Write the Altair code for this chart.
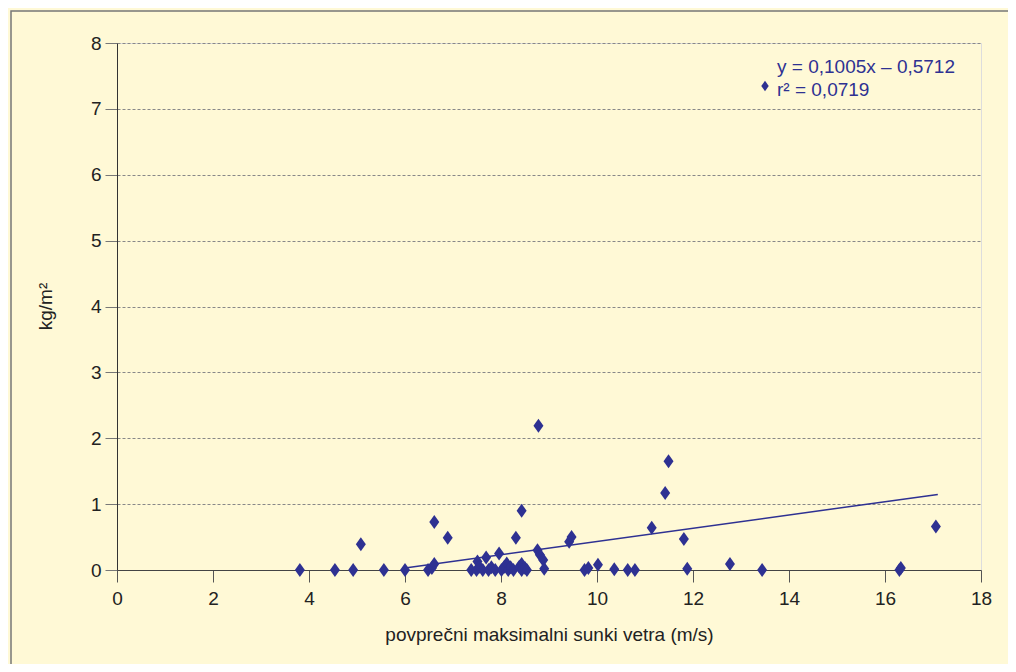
import altair as alt
import pandas as pd

# ---- data ----
wind = [3.81, 4.54, 4.92, 5.08, 5.56, 6.00, 6.48, 6.56, 6.61, 6.61, 6.89,
        7.38, 7.49, 7.51, 7.55, 7.62, 7.69, 7.74, 7.80, 7.88, 7.96, 8.01, 8.07,
        8.12, 8.15, 8.20, 8.26, 8.31, 8.38, 8.43, 8.43, 8.43, 8.50, 8.54,
        8.78, 8.76, 8.81, 8.88, 8.90, 9.42, 9.47, 9.74, 9.82, 10.02, 10.36,
        10.64, 10.79, 11.14, 11.42, 11.49, 11.81, 11.88, 12.77, 13.44,
        16.30, 16.33, 17.06]
mass = [0.00, 0.00, 0.00, 0.39, 0.00, 0.00, 0.00, 0.03, 0.09, 0.73, 0.49,
        0.00, 0.00, 0.13, 0.05, 0.00, 0.19, 0.00, 0.04, 0.00, 0.25, 0.00, 0.05,
        0.10, 0.00, 0.04, 0.00, 0.49, 0.05, 0.90, 0.09, 0.00, 0.03, 0.00,
        2.19, 0.30, 0.23, 0.15, 0.02, 0.43, 0.50, 0.00, 0.03, 0.08, 0.01,
        0.00, 0.00, 0.64, 1.17, 1.65, 0.47, 0.02, 0.09, 0.00,
        0.00, 0.03, 0.66]

slope = 0.1005
intercept = -0.5712
r2 = 0.0719
trend_x = [6.0, 17.1]

x_ticks = [0, 2, 4, 6, 8, 10, 12, 14, 16, 18]
y_ticks = [0, 1, 2, 3, 4, 5, 6, 7, 8]

x_title = "povprečni maksimalni sunki vetra (m/s)"
y_title = "kg/m²"

def fmt(v, d):
    return f"{v:.{d}f}".replace(".", ",")

eq_lines = [f"y = {fmt(slope, 4)}x – {fmt(abs(intercept), 4)}", f"r² = {fmt(r2, 4)}"]

NAVY = "#2E3192"
FONT = "Liberation Sans"
FS = 19
DIAMOND = "M0,-1.4L1,0L0,1.4L-1,0Z"

pts = pd.DataFrame({"x": wind, "y": mass})
trend = pd.DataFrame({"x": trend_x, "y": [slope * v + intercept for v in trend_x]})

W, H = 864, 527

x_scale = alt.Scale(domain=[0, 18], nice=False)
y_scale = alt.Scale(domain=[0, 8], nice=False)

x_axis = alt.Axis(values=x_ticks, format="d", title=x_title, grid=False, tickSize=12,
                  tickColor="#555", domainColor="#444", labelFontSize=FS,
                  labelPadding=7, labelColor="#222", labelFlush=False,
                  titleFontSize=FS, titleFontWeight="normal", titleColor="#222",
                  titleY=64, titleBaseline="middle", labelFont=FONT, titleFont=FONT)
y_axis = alt.Axis(values=y_ticks, format="d", title=y_title, grid=True, gridDash=[3, 2],
                  gridColor="#888", tickSize=12, tickColor="#777",
                  domainColor="#333", labelFontSize=FS, labelPadding=4,
                  labelColor="#222", labelFlush=False, titleFontSize=FS,
                  titleFontWeight="normal", titleColor="#222", titleAngle=270,
                  titleX=-72, titleY=263, titleBaseline="middle", titleAlign="center",
                  labelFont=FONT, titleFont=FONT)

border = alt.Chart(pd.DataFrame({"a": [0]})).mark_rect(
    fillOpacity=0, stroke="#777", strokeWidth=1.5
).encode(x=alt.value(-106), x2=alt.value(W + 60), y=alt.value(-32), y2=alt.value(H + 130))

points = alt.Chart(pts).mark_point(
    shape=DIAMOND, filled=True, size=100, color=NAVY, opacity=1
).encode(x=alt.X("x:Q", scale=x_scale, axis=x_axis),
         y=alt.Y("y:Q", scale=y_scale, axis=y_axis))

line = alt.Chart(trend).mark_line(color=NAVY, strokeWidth=1.5).encode(
    x=alt.X("x:Q", scale=x_scale), y=alt.Y("y:Q", scale=y_scale))

eq1 = alt.Chart(pd.DataFrame({"t": [eq_lines[0]]})).mark_text(
    align="left", baseline="middle", fontSize=FS, color=NAVY, font=FONT
).encode(x=alt.value(660), y=alt.value(24), text="t:N")
eq2 = alt.Chart(pd.DataFrame({"t": [eq_lines[1]]})).mark_text(
    align="left", baseline="middle", fontSize=FS, color=NAVY, font=FONT
).encode(x=alt.value(660), y=alt.value(47), text="t:N")
marker = alt.Chart(pd.DataFrame({"a": [0]})).mark_point(
    shape=DIAMOND, filled=True, size=56, color=NAVY, opacity=1
).encode(x=alt.value(648), y=alt.value(43))

chart = alt.layer(border, line, points, eq1, eq2, marker).properties(
    width=W, height=H,
    padding={"left": 109, "top": 35, "right": 27, "bottom": 94},
    autosize=alt.AutoSizeParams(type="none"),
    background="#FFF9D6",
).configure_view(fill="white", stroke="#888", strokeWidth=1
).configure(font=FONT)

chart.save("out.html", embed_options={"renderer": "svg", "actions": False})
